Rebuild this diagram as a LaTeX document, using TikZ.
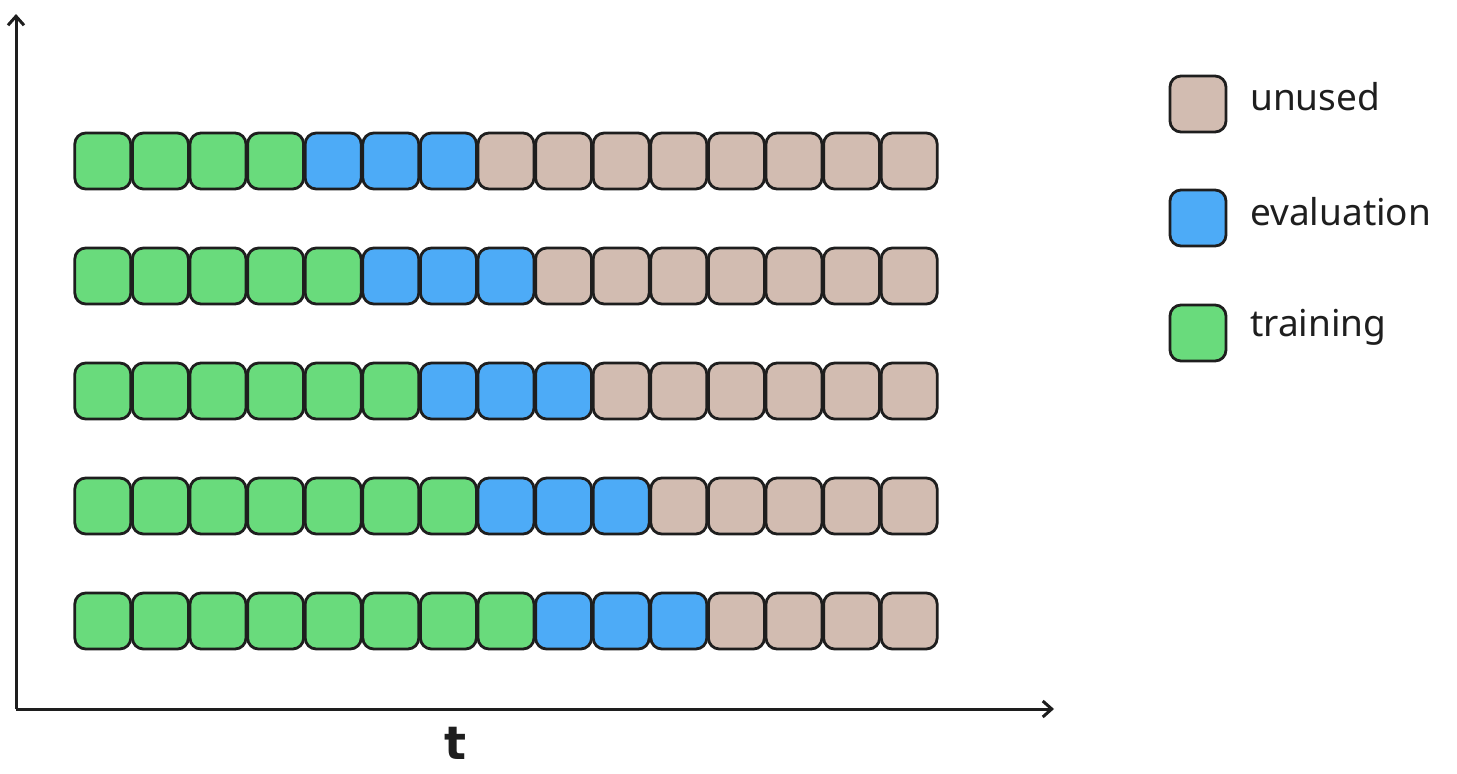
\documentclass[tikz,border=0pt]{standalone}
\usepackage{fontspec}
\setmainfont{Noto Sans}
\newfontfamily\tfont{DejaVu Sans}
\usetikzlibrary{arrows.meta}
\definecolor{cgreen}{HTML}{69DB7C}
\definecolor{cblue}{HTML}{4DABF7}
\definecolor{cunused}{HTML}{D2BCB1}
\definecolor{cline}{HTML}{1E1E1E}
\tikzset{
  cell/.style={draw=cline, line width=2.8pt, rounded corners=11pt, minimum width=56pt, minimum height=56pt, inner sep=0pt},
  train/.style={cell, fill=cgreen},
  eval/.style={cell, fill=cblue},
  unused/.style={cell, fill=cunused},
  axis/.style={draw=cline, line width=3pt, -{Straight Barb[length=9pt,width=16pt,line width=3pt]}},
  lbl/.style={anchor=west, font=\fontsize{37}{40}\selectfont, text=cline, inner sep=0pt}
}
\begin{document}
\begin{tikzpicture}[x=1pt,y=-1pt]
\useasboundingbox (0,0) rectangle (1457,774);
\coordinate (origin) at (16,709);
\coordinate (ytip) at (16,14);
\coordinate (xtip) at (1054,709);
\draw[axis] (origin) -- (ytip);
\draw[axis] (origin) -- (xtip);
\node[font=\fontsize{46}{48}\selectfont\tfont\bfseries, text=cline] (tlabel) at (455,743) {t};
\foreach \r in {0,...,4}{
  \pgfmathtruncatemacro{\ng}{4+\r}
  \pgfmathtruncatemacro{\nb}{7+\r}
  \foreach \c in {1,...,15}{
    \pgfmathsetmacro{\cx}{74+28.8+57.6*(\c-1)}
    \pgfmathsetmacro{\cy}{161+115*\r}
    \ifnum\c>\nb
      \node[unused] (b-\r-\c) at (\cx,\cy) {};
    \else\ifnum\c>\ng
      \node[eval] (b-\r-\c) at (\cx,\cy) {};
    \else
      \node[train] (b-\r-\c) at (\cx,\cy) {};
    \fi\fi
  }
}
\node[unused] (lu) at (1198,104) {};
\node[eval] (le) at (1198,218) {};
\node[train] (lt) at (1198,333) {};
\node[lbl] (tu) at (1250,97) {unused};
\node[lbl] (te) at (1250,212) {evaluation};
\node[lbl] (tt) at (1250,327) {training};
\end{tikzpicture}
\end{document}
